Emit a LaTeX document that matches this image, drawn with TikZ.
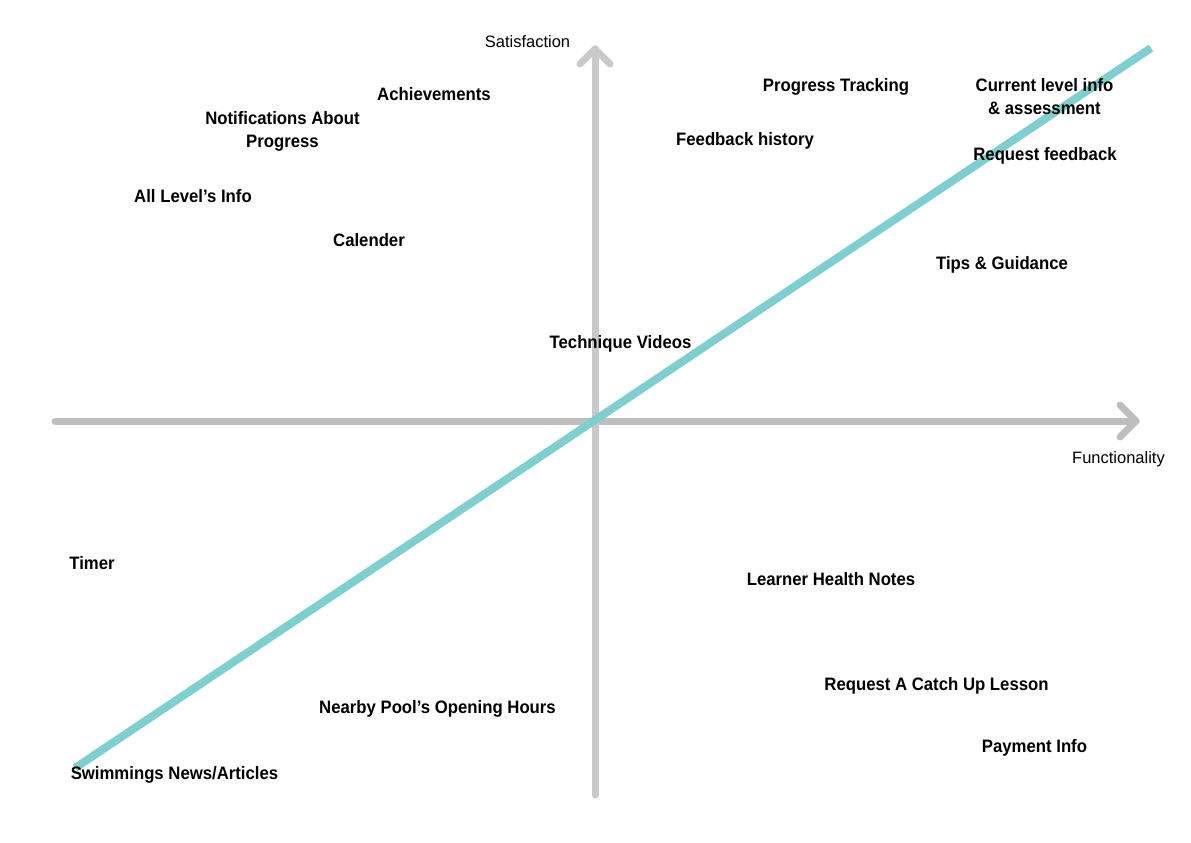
\documentclass[tikz,border=0pt]{standalone}
\usepackage{fontspec}
\setmainfont[BoldFeatures={FakeStretch=0.93}]{Liberation Sans}
\begin{document}
\begin{tikzpicture}[x=1pt,y=-1pt,
  lbl/.style={font=\fontsize{18}{23}\selectfont\bfseries, anchor=base, align=center, inner sep=0pt},
  axlbl/.style={font=\fontsize{16.5}{19}\selectfont, anchor=base, inner sep=0pt},
  axisline/.style={line width=7pt, line cap=round, line join=round},
  trend/.style={line width=8pt, draw=teal1}]
\definecolor{hgray}{HTML}{BEBEBE}
\definecolor{vgray}{HTML}{C9C9C9}
\definecolor{teal1}{HTML}{7ECFCF}
\useasboundingbox[fill=white] (0,0) rectangle (1191,843);
% axes
\coordinate (xl) at (55,421);
\coordinate (xr) at (1136,421);
\coordinate (xa1) at (1120,405);
\coordinate (xa2) at (1120,437);
\coordinate (yb) at (595,795);
\coordinate (yt) at (595,49);
\coordinate (ya1) at (580,64);
\coordinate (ya2) at (610,64);
\draw[axisline, draw=hgray] (xl) -- (xr);
\draw[axisline, draw=hgray] (xa1) -- (xr) -- (xa2);
\draw[axisline, draw=vgray] (yb) -- (yt);
\draw[axisline, draw=vgray] (ya1) -- (yt) -- (ya2);
% trend line
\coordinate (t1) at (75,768);
\coordinate (t2) at (1151,48);
\draw[trend] (t1) -- (t2);
% axis labels
\node[axlbl] (sat) at (527.5,48) {Satisfaction};
\node[axlbl] (fun) at (1118.5,463) {Functionality};
% items
\node[lbl] (ach) at (434,100) {Achievements};
\node[lbl] (not) at (282.5,147) {Notifications About\\Progress};
\node[lbl] (all) at (193,202) {All Level’s Info};
\node[lbl] (cal) at (369,246) {Calender};
\node[lbl] (pro) at (836,92) {Progress Tracking};
\node[lbl] (cur) at (1044.5,114) {Current level info\\\& assessment};
\node[lbl] (fee) at (745,145) {Feedback history};
\node[lbl] (req) at (1045,160) {Request feedback};
\node[lbl] (tip) at (1002,269) {Tips \& Guidance};
\node[lbl] (tec) at (620.5,348) {Technique Videos};
\node[lbl] (tim) at (92,569) {Timer};
\node[lbl] (lea) at (831,585) {Learner Health Notes};
\node[lbl] (rca) at (936.5,690) {Request A Catch Up Lesson};
\node[lbl] (nea) at (437.5,713) {Nearby Pool’s Opening Hours};
\node[lbl] (pay) at (1034.5,752) {Payment Info};
\node[lbl] (swi) at (174.5,779) {Swimmings News/Articles};
\end{tikzpicture}
\end{document}
